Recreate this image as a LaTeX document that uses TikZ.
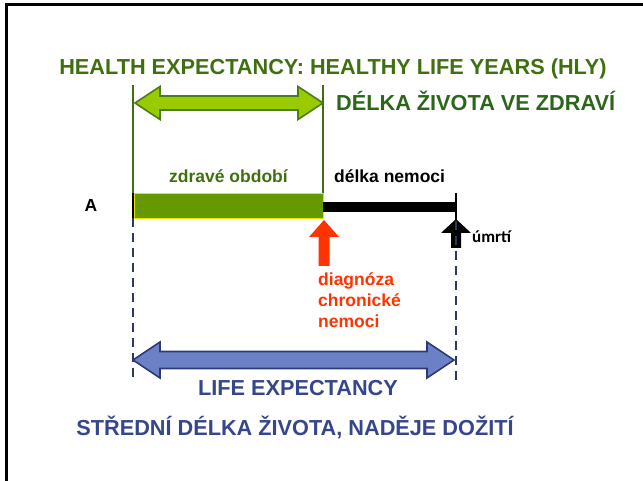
\documentclass[tikz,border=0pt]{standalone}
\usepackage{fontspec}
\setmainfont{Liberation Sans}
\newfontfamily\calibri{Carlito}
\usepackage{tikz}
\usetikzlibrary{positioning}

\definecolor{hlygreen}{HTML}{3F7010}
\definecolor{zdravgreen}{HTML}{2B6619}
\definecolor{barolive}{HTML}{669900}
\definecolor{arrowlime}{HTML}{99CC00}
\definecolor{arrowedge}{HTML}{4B7C17}
\definecolor{lifenavy}{HTML}{35468A}
\definecolor{arrowblue}{HTML}{6C80C6}
\definecolor{blueedge}{HTML}{2C3B74}
\definecolor{dashnavy}{HTML}{2B3866}
\definecolor{diagred}{HTML}{FF3300}

\tikzset{
  bigtext/.style={font=\fontsize{21.7}{25}\selectfont\bfseries, inner sep=0pt},
  smalltext/.style={font=\fontsize{17.5}{20.5}\selectfont\bfseries, inner sep=0pt},
  greenline/.style={hlygreen, line width=2.5pt},
  lifeline/.style={dashnavy, line width=2.5pt, dash pattern=on 9pt off 6pt},
  tickline/.style={black, line width=2pt}
}

\begin{document}
\begin{tikzpicture}[x=1pt,y=-1pt]
\useasboundingbox (0,0) rectangle (643,481);
% frame
\draw[line width=3pt] (6,481)--(6,4.5)--(643,4.5);
% key points
\coordinate (birth) at (133,205);
\coordinate (diag) at (323,205);
\coordinate (death) at (456,205);
\coordinate (greentop1) at (133,85);
\coordinate (greentop2) at (323,85);
\coordinate (bartop1) at (133,193);
\coordinate (bartop2) at (323,193);
\coordinate (dashend1) at (133,381);
\coordinate (dashend2) at (456,381);
% healthy years bracket
\draw[greenline] (greentop1)--(bartop1);
\draw[greenline] (greentop2)--(bartop2);
\fill[arrowlime, draw=arrowedge, line width=1.6pt, line join=miter]
  (135,103)--(160,86.5)--(160,96)--(298,96)--(298,86.5)--(323,103)
  --(298,119.5)--(298,110)--(160,110)--(160,119.5)--cycle;
% bar and illness line
\fill[barolive, draw={rgb,255:red,230;green,230;blue,0}, line width=0.8pt] (134,193) rectangle (323,218);
\draw[black, line width=10pt] (323,207)--(456,207);
\draw[tickline] (133,193)--(133,218);
\draw[tickline] (456,193)--(456,221);
% markers
\fill[diagred] (324,220)--(339,237)--(329.5,237)--(329.5,266)--(318.5,266)--(318.5,237)--(309,237)--cycle;
\fill[black] (456,219)--(471,233)--(461,233)--(461,248)--(451,248)--(451,233)--(441,233)--cycle;
% life expectancy
\draw[lifeline] (133,218)--(dashend1);
\draw[lifeline] (456,221)--(dashend2);
\fill[arrowblue, draw=blueedge, line width=1.6pt, line join=miter]
  (133,360)--(160,342)--(160,351.5)--(427,351.5)--(427,342)--(454,360)
  --(427,378)--(427,368.5)--(160,368.5)--(160,378)--cycle;
% texts
\node[bigtext, hlygreen, anchor=base] (hly) at (333,75) {HEALTH EXPECTANCY: HEALTHY LIFE YEARS (HLY)};
\node[bigtext, zdravgreen, anchor=base west] (dzz) at (336,111) {DÉLKA ŽIVOTA VE ZDRAVÍ};
\node[smalltext, hlygreen, anchor=base] (zdrave) at (228.5,183) {zdravé období};
\node[smalltext, anchor=base west] (nemoc) at (334,183) {délka nemoci};
\node[smalltext, anchor=base] (a) at (91,212) {A};
\node[font=\fontsize{17}{20}\calibri\bfseries, inner sep=0pt, anchor=base west] (umrti) at (472,243) {úmrtí};
\node[smalltext, diagred, anchor=base west] (diag1) at (318,286) {diagnóza};
\node[smalltext, diagred, anchor=base west] (diag2) at (318,306.5) {chronické};
\node[smalltext, diagred, anchor=base west] (diag3) at (318,327) {nemoci};
\node[bigtext, lifenavy, anchor=base] (le) at (298,395) {LIFE EXPECTANCY};
\node[bigtext, lifenavy, anchor=base] (sdz) at (295,435) {STŘEDNÍ DÉLKA ŽIVOTA, NADĚJE DOŽITÍ};
\end{tikzpicture}
\end{document}
